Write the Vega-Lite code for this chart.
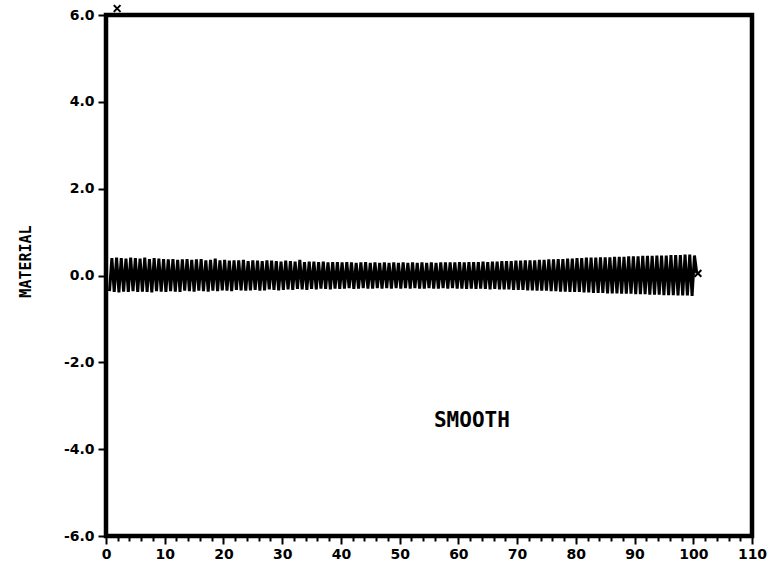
{
  "$schema": "https://vega.github.io/schema/vega-lite/v6.json",
  "width": 646,
  "height": 521,
  "autosize": {"type": "none"},
  "padding": {"left": 106, "top": 15, "right": 18, "bottom": 34},
  "background": "white",
  "config": {
    "view": {"stroke": "black", "strokeWidth": 4.5},
    "axis": {
      "domain": false,
      "grid": false,
      "tickColor": "black",
      "tickWidth": 2,
      "labelColor": "black",
      "labelFont": "DejaVu Sans",
      "labelFontWeight": "bold",
      "labelFontSize": 14,
      "titleColor": "black",
      "labelOverlap": false
    }
  },
  "datasets": {
    "wave": [
      {"x": 0.6, "y": -0.36},
      {"x": 1.0, "y": 0.40}, {"x": 1.4, "y": -0.38}, {"x": 1.8, "y": 0.41}, {"x": 2.2, "y": -0.39}, {"x": 2.6, "y": 0.40},
      {"x": 3.0, "y": -0.37}, {"x": 3.4, "y": 0.39}, {"x": 3.8, "y": -0.38}, {"x": 4.2, "y": 0.41}, {"x": 4.6, "y": -0.36},
      {"x": 5.0, "y": 0.40}, {"x": 5.4, "y": -0.38}, {"x": 5.8, "y": 0.39}, {"x": 6.2, "y": -0.37}, {"x": 6.6, "y": 0.41},
      {"x": 7.0, "y": -0.38}, {"x": 7.4, "y": 0.38}, {"x": 7.8, "y": -0.39}, {"x": 8.2, "y": 0.40}, {"x": 8.6, "y": -0.36},
      {"x": 9.0, "y": 0.39}, {"x": 9.4, "y": -0.37}, {"x": 9.8, "y": 0.38}, {"x": 10.2, "y": -0.38}, {"x": 10.6, "y": 0.37},
      {"x": 11.0, "y": -0.36}, {"x": 11.4, "y": 0.38}, {"x": 11.8, "y": -0.37}, {"x": 12.2, "y": 0.36}, {"x": 12.6, "y": -0.38},
      {"x": 13.0, "y": 0.37}, {"x": 13.4, "y": -0.35}, {"x": 13.8, "y": 0.38}, {"x": 14.2, "y": -0.36}, {"x": 14.6, "y": 0.36},
      {"x": 15.0, "y": -0.37}, {"x": 15.4, "y": 0.37}, {"x": 15.8, "y": -0.35}, {"x": 16.2, "y": 0.38}, {"x": 16.6, "y": -0.36},
      {"x": 17.0, "y": 0.35}, {"x": 17.4, "y": -0.37}, {"x": 17.8, "y": 0.36}, {"x": 18.2, "y": -0.35}, {"x": 18.6, "y": 0.39},
      {"x": 19.0, "y": -0.36}, {"x": 19.4, "y": 0.35}, {"x": 19.8, "y": -0.34}, {"x": 20.2, "y": 0.36}, {"x": 20.6, "y": -0.35},
      {"x": 21.0, "y": 0.34}, {"x": 21.4, "y": -0.36}, {"x": 21.8, "y": 0.35}, {"x": 22.2, "y": -0.33}, {"x": 22.6, "y": 0.35},
      {"x": 23.0, "y": -0.34}, {"x": 23.4, "y": 0.36}, {"x": 23.8, "y": -0.35}, {"x": 24.2, "y": 0.33}, {"x": 24.6, "y": -0.34},
      {"x": 25.0, "y": 0.35}, {"x": 25.4, "y": -0.33}, {"x": 25.8, "y": 0.34}, {"x": 26.2, "y": -0.35}, {"x": 26.6, "y": 0.33},
      {"x": 27.0, "y": -0.34}, {"x": 27.4, "y": 0.35}, {"x": 27.8, "y": -0.32}, {"x": 28.2, "y": 0.34}, {"x": 28.6, "y": -0.33},
      {"x": 29.0, "y": 0.33}, {"x": 29.4, "y": -0.34}, {"x": 29.8, "y": 0.32}, {"x": 30.2, "y": -0.33}, {"x": 30.6, "y": 0.34},
      {"x": 31.0, "y": -0.32}, {"x": 31.4, "y": 0.33}, {"x": 31.8, "y": -0.33}, {"x": 32.2, "y": 0.32}, {"x": 32.6, "y": -0.31},
      {"x": 33.0, "y": 0.36}, {"x": 33.4, "y": -0.32}, {"x": 33.8, "y": 0.31}, {"x": 34.2, "y": -0.33}, {"x": 34.6, "y": 0.32},
      {"x": 35.0, "y": -0.31}, {"x": 35.4, "y": 0.32}, {"x": 35.8, "y": -0.32}, {"x": 36.2, "y": 0.31}, {"x": 36.6, "y": -0.30},
      {"x": 37.0, "y": 0.32}, {"x": 37.4, "y": -0.31}, {"x": 37.8, "y": 0.30}, {"x": 38.2, "y": -0.32}, {"x": 38.6, "y": 0.31},
      {"x": 39.0, "y": -0.30}, {"x": 39.4, "y": 0.31}, {"x": 39.8, "y": -0.31}, {"x": 40.2, "y": 0.30}, {"x": 40.6, "y": -0.30},
      {"x": 41.0, "y": 0.31}, {"x": 41.4, "y": -0.29}, {"x": 41.8, "y": 0.30}, {"x": 42.2, "y": -0.31}, {"x": 42.6, "y": 0.29},
      {"x": 43.0, "y": -0.30}, {"x": 43.4, "y": 0.30}, {"x": 43.8, "y": -0.29}, {"x": 44.2, "y": 0.31}, {"x": 44.6, "y": -0.30},
      {"x": 45.0, "y": 0.29}, {"x": 45.4, "y": -0.30}, {"x": 45.8, "y": 0.30}, {"x": 46.2, "y": -0.29}, {"x": 46.6, "y": 0.29},
      {"x": 47.0, "y": -0.30}, {"x": 47.4, "y": 0.30}, {"x": 47.8, "y": -0.29}, {"x": 48.2, "y": 0.29}, {"x": 48.6, "y": -0.30},
      {"x": 49.0, "y": 0.30}, {"x": 49.4, "y": -0.29}, {"x": 49.8, "y": 0.29}, {"x": 50.2, "y": -0.30}, {"x": 50.6, "y": 0.30},
      {"x": 51.0, "y": -0.29}, {"x": 51.4, "y": 0.29}, {"x": 51.8, "y": -0.30}, {"x": 52.2, "y": 0.30}, {"x": 52.6, "y": -0.29},
      {"x": 53.0, "y": 0.29}, {"x": 53.4, "y": -0.30}, {"x": 53.8, "y": 0.30}, {"x": 54.2, "y": -0.30}, {"x": 54.6, "y": 0.29},
      {"x": 55.0, "y": -0.29}, {"x": 55.4, "y": 0.30}, {"x": 55.8, "y": -0.30}, {"x": 56.2, "y": 0.29}, {"x": 56.6, "y": -0.30},
      {"x": 57.0, "y": 0.30}, {"x": 57.4, "y": -0.29}, {"x": 57.8, "y": 0.30}, {"x": 58.2, "y": -0.30}, {"x": 58.6, "y": 0.30},
      {"x": 59.0, "y": -0.29}, {"x": 59.4, "y": 0.30}, {"x": 59.8, "y": -0.30}, {"x": 60.2, "y": 0.31}, {"x": 60.6, "y": -0.30},
      {"x": 61.0, "y": 0.30}, {"x": 61.4, "y": -0.31}, {"x": 61.8, "y": 0.31}, {"x": 62.2, "y": -0.30}, {"x": 62.6, "y": 0.31},
      {"x": 63.0, "y": -0.31}, {"x": 63.4, "y": 0.31}, {"x": 63.8, "y": -0.30}, {"x": 64.2, "y": 0.32}, {"x": 64.6, "y": -0.31},
      {"x": 65.0, "y": 0.31}, {"x": 65.4, "y": -0.32}, {"x": 65.8, "y": 0.32}, {"x": 66.2, "y": -0.31}, {"x": 66.6, "y": 0.32},
      {"x": 67.0, "y": -0.32}, {"x": 67.4, "y": 0.33}, {"x": 67.8, "y": -0.32}, {"x": 68.2, "y": 0.33}, {"x": 68.6, "y": -0.32},
      {"x": 69.0, "y": 0.33}, {"x": 69.4, "y": -0.33}, {"x": 69.8, "y": 0.34}, {"x": 70.2, "y": -0.33}, {"x": 70.6, "y": 0.34},
      {"x": 71.0, "y": -0.33}, {"x": 71.4, "y": 0.35}, {"x": 71.8, "y": -0.34}, {"x": 72.2, "y": 0.35}, {"x": 72.6, "y": -0.34},
      {"x": 73.0, "y": 0.35}, {"x": 73.4, "y": -0.35}, {"x": 73.8, "y": 0.36}, {"x": 74.2, "y": -0.35}, {"x": 74.6, "y": 0.36},
      {"x": 75.0, "y": -0.35}, {"x": 75.4, "y": 0.37}, {"x": 75.8, "y": -0.36}, {"x": 76.2, "y": 0.37}, {"x": 76.6, "y": -0.36},
      {"x": 77.0, "y": 0.38}, {"x": 77.4, "y": -0.37}, {"x": 77.8, "y": 0.38}, {"x": 78.2, "y": -0.37}, {"x": 78.6, "y": 0.39},
      {"x": 79.0, "y": -0.38}, {"x": 79.4, "y": 0.39}, {"x": 79.8, "y": -0.38}, {"x": 80.2, "y": 0.40}, {"x": 80.6, "y": -0.38},
      {"x": 81.0, "y": 0.40}, {"x": 81.4, "y": -0.39}, {"x": 81.8, "y": 0.41}, {"x": 82.2, "y": -0.39}, {"x": 82.6, "y": 0.41},
      {"x": 83.0, "y": -0.40}, {"x": 83.4, "y": 0.41}, {"x": 83.8, "y": -0.40}, {"x": 84.2, "y": 0.42}, {"x": 84.6, "y": -0.40},
      {"x": 85.0, "y": 0.42}, {"x": 85.4, "y": -0.41}, {"x": 85.8, "y": 0.42}, {"x": 86.2, "y": -0.41}, {"x": 86.6, "y": 0.43},
      {"x": 87.0, "y": -0.41}, {"x": 87.4, "y": 0.43}, {"x": 87.8, "y": -0.42}, {"x": 88.2, "y": 0.43}, {"x": 88.6, "y": -0.42},
      {"x": 89.0, "y": 0.44}, {"x": 89.4, "y": -0.42}, {"x": 89.8, "y": 0.44}, {"x": 90.2, "y": -0.43}, {"x": 90.6, "y": 0.44},
      {"x": 91.0, "y": -0.43}, {"x": 91.4, "y": 0.45}, {"x": 91.8, "y": -0.43}, {"x": 92.2, "y": 0.45}, {"x": 92.6, "y": -0.44},
      {"x": 93.0, "y": 0.45}, {"x": 93.4, "y": -0.44}, {"x": 93.8, "y": 0.46}, {"x": 94.2, "y": -0.44}, {"x": 94.6, "y": 0.46},
      {"x": 95.0, "y": -0.45}, {"x": 95.4, "y": 0.46}, {"x": 95.8, "y": -0.45}, {"x": 96.2, "y": 0.47}, {"x": 96.6, "y": -0.45},
      {"x": 97.0, "y": 0.47}, {"x": 97.4, "y": -0.46}, {"x": 97.8, "y": 0.47}, {"x": 98.2, "y": -0.46}, {"x": 98.6, "y": 0.48},
      {"x": 99.0, "y": -0.46}, {"x": 99.4, "y": 0.48}, {"x": 99.8, "y": -0.47}, {"x": 100.2, "y": 0.46}, {"x": 100.6, "y": 0.05}
    ],
    "markers": [
      {"x": 1.9, "y": 6.15},
      {"x": 100.8, "y": 0.05}
    ],
    "labels": [
      {"x": 62.3, "y": -3.36, "text": "SMOOTH"}
    ]
  },
  "layer": [
    {
      "data": {"name": "wave"},
      "mark": {"type": "line", "color": "black", "strokeWidth": 3, "clip": true},
      "encoding": {
        "x": {
          "field": "x",
          "type": "quantitative",
          "scale": {"domain": [0, 110], "nice": false, "zero": false},
          "axis": {
            "title": null,
            "values": [0, 2, 4, 6, 8, 10, 12, 14, 16, 18, 20, 22, 24, 26, 28, 30, 32, 34, 36, 38, 40, 42, 44, 46, 48, 50, 52, 54, 56, 58, 60, 62, 64, 66, 68, 70, 72, 74, 76, 78, 80, 82, 84, 86, 88, 90, 92, 94, 96, 98, 100, 102, 104, 106, 108, 110],
            "tickCount": 200,
            "format": "d",
            "labelExpr": "datum.value % 10 === 0 ? format(datum.value, 'd') : ''",
            "labelOverlap": false,
            "labelFlush": false,
            "tickSize": {"condition": {"test": "datum.value % 10 === 0", "value": 8}, "value": 5},
            "labelPadding": 3
          }
        },
        "y": {
          "field": "y",
          "type": "quantitative",
          "scale": {"domain": [-6, 6], "nice": false, "zero": false},
          "axis": {
            "title": "MATERIAL",
            "titleFont": "DejaVu Sans Mono",
            "titleFontSize": 15,
            "titleFontWeight": "bold",
            "titleX": -81,
            "titleY": 246,
            "titleAngle": -90,
            "titleAlign": "center",
            "titleBaseline": "middle",
            "values": [-6, -4, -2, 0, 2, 4, 6],
            "tickCount": 50,
            "format": ".1f",
            "labelExpr": "(datum.value < 0 ? '-' : '') + format(abs(datum.value), '.1f')",
            "labelFlush": false,
            "labelOverlap": false,
            "tickSize": 8,
            "labelPadding": 4
          }
        }
      }
    },
    {
      "data": {"name": "markers"},
      "mark": {"type": "point", "shape": "M-1,-1L1,1M1,-1L-1,1", "size": 45, "stroke": "black", "strokeWidth": 2, "filled": false, "opacity": 1},
      "encoding": {
        "x": {"field": "x", "type": "quantitative"},
        "y": {"field": "y", "type": "quantitative"}
      }
    },
    {
      "data": {"name": "labels"},
      "mark": {"type": "text", "font": "DejaVu Sans Mono", "fontSize": 21, "fontWeight": "bold", "color": "black", "align": "center", "baseline": "middle"},
      "encoding": {
        "x": {"field": "x", "type": "quantitative"},
        "y": {"field": "y", "type": "quantitative"},
        "text": {"field": "text"}
      }
    }
  ]
}
